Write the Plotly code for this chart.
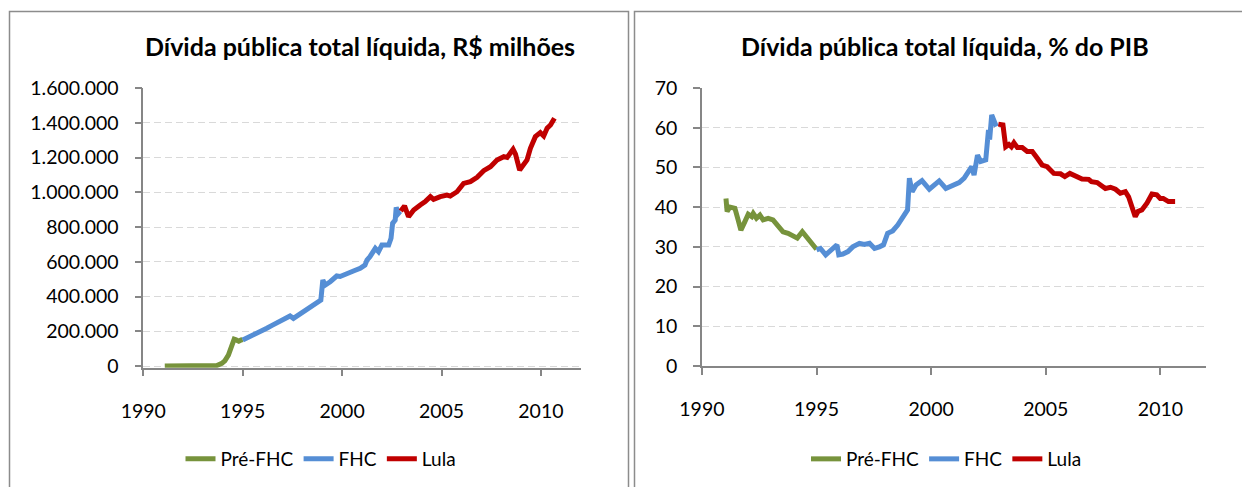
import plotly.graph_objects as go

# ---------------- data (decimal years) ----------------
# Left chart: Dívida pública total líquida, R$ milhões
pre_t_rs = [1991.08, 1991.5, 1992.0, 1992.5, 1993.0, 1993.5, 1993.7, 1993.95, 1994.1,
            1994.28, 1994.45, 1994.57, 1994.67, 1994.8, 1994.92, 1995.0]
pre_v_rs = [0, 0, 0, 0, 0, 1000, 3000, 15000, 30000,
            63000, 111000, 154000, 150000, 143000, 150000, 152000]

fhc_t_rs = [1995.0, 1995.3, 1995.7, 1996.0, 1996.21, 1996.5, 1996.72, 1997.0, 1997.22,
            1997.38, 1997.55, 1997.7, 1997.89, 1998.22, 1998.56, 1998.8, 1998.93, 1999.03,
            1999.1, 1999.15, 1999.4, 1999.73, 1999.9, 2000.07, 2000.4, 2000.6, 2000.91,
            2001.15, 2001.25, 2001.4, 2001.67, 2001.83, 2002.0, 2002.34, 2002.46, 2002.54,
            2002.67, 2002.72, 2002.84, 2002.92]
fhc_v_rs = [150000, 165000, 188000, 205000, 217000, 235000, 249000, 265000, 280000,
            288000, 274000, 285000, 299000, 326000, 351000, 365000, 380000, 495000,
            470000, 466000, 485000, 518000, 515000, 524000, 543000, 548000, 562000,
            581000, 610000, 629000, 677000, 658000, 696000, 696000, 735000, 821000,
            840000, 913000, 879000, 890000]

lula_t_rs = [2002.95, 2003.14, 2003.34, 2003.6, 2003.93, 2004.18, 2004.44, 2004.6, 2004.94,
             2005.28, 2005.44, 2005.78, 2006.11, 2006.45, 2006.79, 2007.12, 2007.46,
             2007.79, 2008.13, 2008.3, 2008.6, 2008.72, 2008.93, 2009.13, 2009.3, 2009.47,
             2009.72, 2009.97, 2010.14, 2010.31, 2010.48, 2010.68]
lula_v_rs = [892000, 921000, 859000, 898000, 927000, 946000, 975000, 959000, 975000,
             984000, 978000, 1003000, 1051000, 1061000, 1086000, 1124000, 1147000,
             1186000, 1205000, 1200000, 1247000, 1220000, 1128000, 1167000, 1186000, 1253000,
             1320000, 1343000, 1324000, 1368000, 1387000, 1426000]

# Right chart: Dívida pública total líquida, % do PIB
pre_t_pib = [1991.05, 1991.1, 1991.22, 1991.44, 1991.58, 1991.7, 1991.87, 1992.02, 1992.17,
             1992.24, 1992.38, 1992.53, 1992.67, 1992.89, 1993.1, 1993.32, 1993.54, 1993.76,
             1993.97, 1994.16, 1994.38, 1994.56, 1994.77, 1994.92, 1995.0]
pre_v_pib = [42.2, 38.9, 40.0, 39.7, 36.8, 34.2, 36.3, 38.2, 37.6,
             38.4, 37.2, 38.0, 36.8, 37.2, 36.8, 35.5, 33.8, 33.4,
             32.6, 32.2, 33.8, 32.6, 30.9, 30.0, 29.4]

fhc_t_pib = [1995.0, 1995.17, 1995.4, 1995.64, 1995.89, 1995.97, 1996.15, 1996.37, 1996.58,
             1996.87, 1997.09, 1997.31, 1997.53, 1997.74, 1997.92, 1998.1, 1998.32, 1998.54,
             1998.76, 1998.97, 1999.05, 1999.17, 1999.34, 1999.6, 1999.92, 2000.35, 2000.64,
             2000.93, 2001.22, 2001.44, 2001.66, 2001.77, 2001.87, 2002.02, 2002.16, 2002.38,
             2002.5, 2002.55, 2002.64, 2002.74, 2002.84]
fhc_v_pib = [29.2, 29.6, 28.0, 29.2, 30.5, 28.0, 28.2, 28.8, 30.0,
             30.9, 30.6, 30.9, 29.6, 30.0, 30.5, 33.4, 34.0, 35.5,
             37.2, 39.3, 47.3, 43.9, 45.6, 46.7, 44.5, 46.6, 44.7,
             45.6, 46.2, 47.3, 49.4, 50.2, 48.1, 53.1, 51.5, 51.9,
             59.4, 57.0, 63.2, 62.0, 60.3]

lula_t_pib = [2002.93, 2003.13, 2003.25, 2003.39, 2003.5, 2003.61, 2003.76, 2003.97, 2004.19,
              2004.41, 2004.63, 2004.84, 2005.06, 2005.35, 2005.64, 2005.83, 2006.05, 2006.29,
              2006.58, 2006.87, 2006.99, 2007.24, 2007.45, 2007.6, 2007.82, 2008.04, 2008.25,
              2008.47, 2008.61, 2008.73, 2008.9, 2009.02, 2009.19, 2009.41, 2009.63, 2009.84,
              2009.99, 2010.12, 2010.35, 2010.64]
lula_v_pib = [60.9, 60.7, 55.2, 55.8, 55.2, 56.2, 55.0, 55.0, 54.0,
              54.0, 52.3, 50.6, 50.2, 48.5, 48.4, 47.7, 48.5, 47.7,
              47.1, 47.0, 46.4, 46.2, 45.3, 44.7, 45.0, 44.5, 43.5,
              43.9, 42.6, 40.5, 37.6, 38.9, 39.3, 41.0, 43.3, 43.1,
              42.2, 42.2, 41.4, 41.4]

series_names = ["Pré-FHC", "FHC", "Lula"]
series_colors = ["#77933C", "#558ED5", "#C00000"]
titles = ["Dívida pública total líquida, R$ milhões", "Dívida pública total líquida, % do PIB"]
x_ticks = [1990, 1995, 2000, 2005, 2010]

# ---------------- figure ----------------
W, H = 1242, 487
FONT = "Lato, 'Open Sans', sans-serif"

def px_x(p):
    return p / W

def px_y(p):
    return 1 - p / H

fig = go.Figure()

left_sets = [(pre_t_rs, pre_v_rs), (fhc_t_rs, fhc_v_rs), (lula_t_rs, lula_v_rs)]
right_sets = [(pre_t_pib, pre_v_pib), (fhc_t_pib, fhc_v_pib), (lula_t_pib, lula_v_pib)]

for (t, v), name, col in zip(left_sets, series_names, series_colors):
    fig.add_trace(go.Scatter(x=t, y=v, mode="lines", name=name,
                             line=dict(color=col, width=5),
                             xaxis="x", yaxis="y", legend="legend"))
for (t, v), name, col in zip(right_sets, series_names, series_colors):
    fig.add_trace(go.Scatter(x=t, y=v, mode="lines", name=name,
                             line=dict(color=col, width=5),
                             xaxis="x2", yaxis="y2", legend="legend2"))

axis_common = dict(
    showline=True, linecolor="#868686", linewidth=1.5,
    ticks="outside", ticklen=7, tickcolor="#868686", tickwidth=1.5,
    tickfont=dict(family=FONT, size=19.5, color="#000000"),
    zeroline=False, automargin=False,
)

# small negative pad on the R$ chart so the flat zero line isn't clipped
ypad = 10000
bottom_left = 366 + 278 * ypad / 1600000

fig.update_layout(
    width=W, height=H,
    margin=dict(l=0, r=0, t=0, b=0, pad=0, autoexpand=False),
    paper_bgcolor="white", plot_bgcolor="white",
    separators=",.",
    font=dict(family=FONT, size=19, color="#000000"),
    xaxis=dict(domain=[px_x(143.3), px_x(580.7)], range=[1990, 2012],
               tickvals=x_ticks, showgrid=False, anchor="y",
               ticklabelstandoff=18, **axis_common),
    yaxis=dict(domain=[px_y(bottom_left), px_y(88)], range=[-ypad, 1600000],
               dtick=200000, tick0=0, tickformat=",.0f", anchor="x",
               showgrid=True, gridcolor="#D9D9D9", gridwidth=1.2, griddash="7px,4px",
               ticklabelstandoff=12, **axis_common),
    xaxis2=dict(domain=[px_x(701.9), px_x(1206.3)], range=[1990, 2012],
                tickvals=x_ticks, showgrid=False, anchor="y2",
                ticklabelstandoff=18, **axis_common),
    yaxis2=dict(domain=[px_y(366), px_y(88)], range=[0, 70], dtick=10, anchor="x2",
                showgrid=True, gridcolor="#D9D9D9", gridwidth=1.2, griddash="7px,4px",
                ticklabelstandoff=12, **axis_common),
    legend=dict(orientation="h", x=px_x(321), xanchor="center", y=px_y(459), yanchor="middle",
                font=dict(family=FONT, size=19, color="#000000"),
                bgcolor="rgba(0,0,0,0)", itemwidth=30, tracegroupgap=0),
    legend2=dict(orientation="h", x=px_x(946.5), xanchor="center", y=px_y(459), yanchor="middle",
                 font=dict(family=FONT, size=19, color="#000000"),
                 bgcolor="rgba(0,0,0,0)", itemwidth=30, tracegroupgap=0),
    showlegend=True,
)

# chart titles
fig.add_annotation(text="<b>" + titles[0] + "</b>", xref="paper", yref="paper",
                   x=px_x(360), y=px_y(46), xanchor="center", yanchor="middle",
                   showarrow=False, font=dict(family=FONT, size=25, color="#000000"))
fig.add_annotation(text="<b>" + titles[1] + "</b>", xref="paper", yref="paper",
                   x=px_x(945), y=px_y(46), xanchor="center", yanchor="middle",
                   showarrow=False, font=dict(family=FONT, size=25, color="#000000"))

# chart-area frames
frame = dict(color="#8C8C8C", width=1.5)
fig.add_shape(type="rect", xref="paper", yref="paper",
              x0=px_x(9.5), x1=px_x(628.5), y0=-0.2, y1=px_y(11.5), line=frame, layer="below")
fig.add_shape(type="rect", xref="paper", yref="paper",
              x0=px_x(634.5), x1=1.2, y0=-0.2, y1=px_y(11.5), line=frame, layer="below")

fig.write_html("out.html", config={"displayModeBar": False},
               post_script="document.body.style.margin='0px';")
